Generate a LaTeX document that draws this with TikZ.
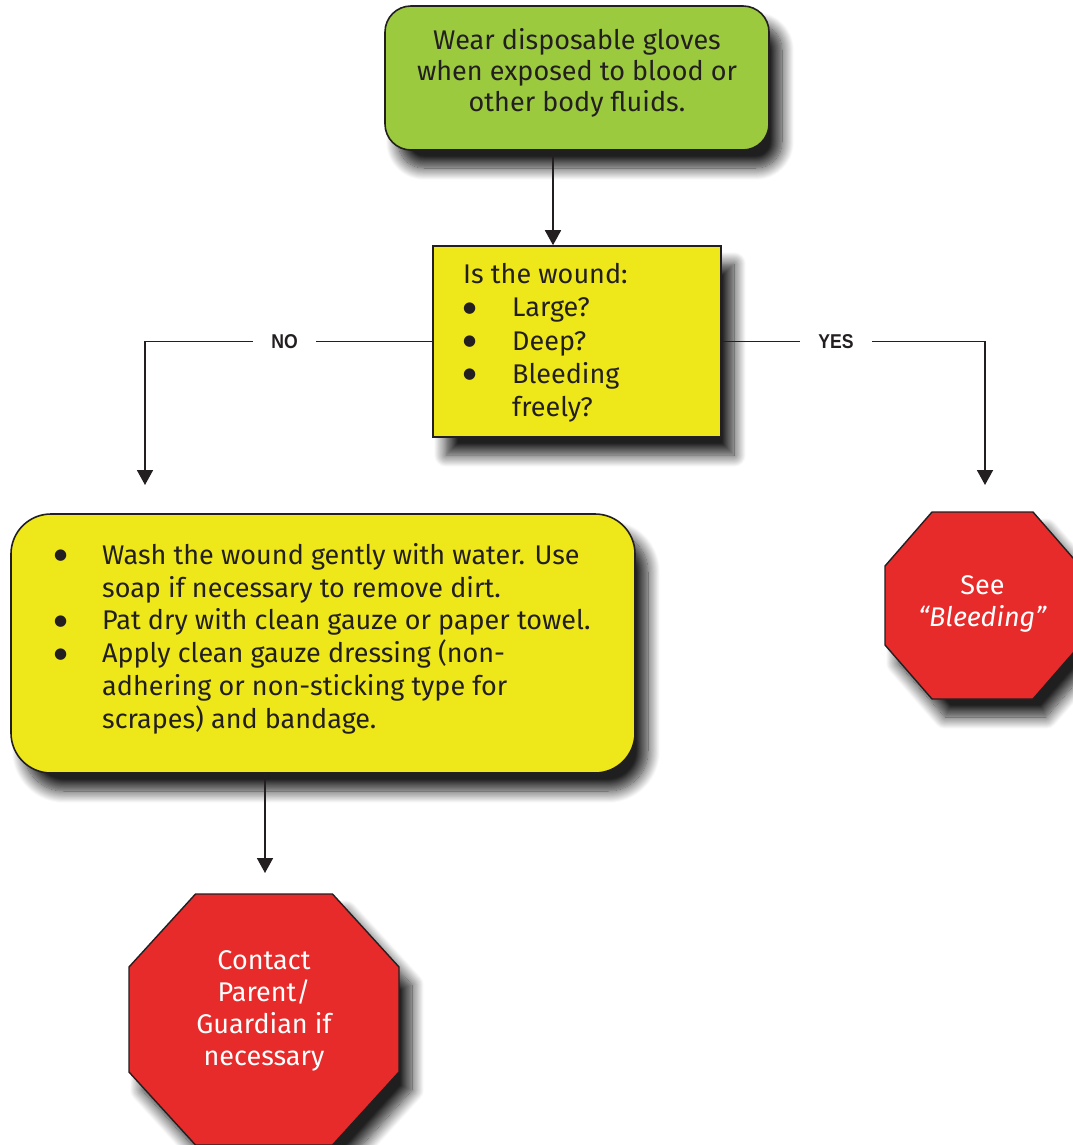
\documentclass[tikz,border=0pt]{standalone}
\usepackage{fontspec}
\setmainfont{Fira Sans}
\newfontfamily\labelfont{Liberation Sans}
\newfontfamily\symfont{DejaVu Sans}
\usetikzlibrary{arrows.meta,shadows.blur}

\definecolor{ink}{HTML}{231F20}
\definecolor{leaf}{HTML}{9BCA3E}
\definecolor{lemon}{HTML}{EEE81B}
\definecolor{stopred}{HTML}{E72A2A}

\tikzset{
  x=1pt, y=1pt,
  dropshadow/.style={blur shadow={shadow xshift=13pt, shadow yshift=-18pt,
      shadow blur radius=12pt, shadow blur steps=16, shadow opacity=88}},
  box/.style={draw=ink, line width=1.6pt, inner sep=0pt, dropshadow},
  stopsign/.style={draw=ink, line width=1.4pt, fill=stopred, dropshadow},
  body/.style={font=\fontsize{27}{32.8}\selectfont, text=ink, inner sep=0pt},
  stoptext/.style={font=\fontsize{27}{32}\selectfont, text=white, align=center, inner sep=0pt},
  flow/.style={draw=ink, line width=1.8pt, -{Triangle[width=16pt,length=15pt]}},
  answer/.style={font=\labelfont\bfseries\fontsize{20}{22}\selectfont, text=ink,
      fill=white, inner xsep=18pt, inner ysep=4pt},
}
% list bullet in a box of the given width
\newcommand{\bul}[1]{\makebox[#1][l]{\raisebox{4.5pt}{\symfont\fontsize{15}{15}\selectfont ●}}}

\begin{document}
\begin{tikzpicture}
\useasboundingbox (0,0) rectangle (1072,-1145);

% gloves instruction
\node[box, fill=leaf, rounded corners=26pt, minimum width=384pt, minimum height=144pt]
  (gloves) at (577,-78) {};
\node[body, font=\fontsize{27}{31}\selectfont, align=center] (glovestext) at (577,-73)
  {Wear disposable gloves\\when exposed to blood or\\other body fluids.};

% wound question
\node[box, fill=lemon, minimum width=288pt, minimum height=191pt]
  (wound) at (577,-341.5) {};
\node[body, font=\fontsize{27}{33.3}\selectfont, align=left, anchor=north west] (woundtext) at (463,-263)
  {Is the wound:\\
   \bul{49pt}Large?\\
   \bul{49pt}Deep?\\
   \bul{49pt}Bleeding\\
   \hspace*{49pt}freely?};

% minor wound care
\node[box, fill=lemon, rounded corners=40pt, minimum width=624pt, minimum height=259pt]
  (care) at (323,-643.5) {};
\node[body, align=left, anchor=north west] (caretext) at (54,-543)
  {\bul{48pt}Wash the wound gently with water. Use\\
   \hspace*{48pt}soap if necessary to remove dirt.\\
   \bul{48pt}Pat dry with clean gauze or paper towel.\\
   \bul{48pt}Apply clean gauze dressing (non-\\
   \hspace*{48pt}adhering or non-sticking type for\\
   \hspace*{48pt}scrapes) and bandage.};

% stop sign: see bleeding
\begin{scope}[shift={(982.5,-605.5)}]
  \draw[stopsign] (-50.5,93.5) -- (50.5,93.5) -- (97.5,39.5) -- (97.5,-39.5)
    -- (50.5,-93.5) -- (-50.5,-93.5) -- (-97.5,-39.5) -- (-97.5,39.5) -- cycle;
  \coordinate (bleedtop) at (0,93.5);
  \node[stoptext] (bleed) at (0,1.5) {See\\\textit{“Bleeding”}};
\end{scope}

% stop sign: contact parent
\begin{scope}[shift={(264,-1019.5)}]
  \draw[stopsign] (-68.5,125.5) -- (68.5,125.5) -- (135,52.5) -- (135,-52.5)
    -- (68.5,-125.5) -- (-68.5,-125.5) -- (-135,-52.5) -- (-135,52.5) -- cycle;
  \coordinate (parenttop) at (1,125.5);
  \node[stoptext] (parent) at (0,8.5) {Contact\\Parent/\\Guardian if\\necessary};
\end{scope}

% connectors
\coordinate (noend) at (145,-485);
\coordinate (yesend) at (985,-485);

\draw[flow] ([xshift=-24pt]gloves.south) -- ([xshift=-24pt]wound.north);
\draw[flow] (wound.west) -- node[answer, pos=0.514] (no) {\scalebox{0.88}[1]{NO}} (wound.west -| noend) -- (noend);
\draw[flow] (wound.east) -- node[answer, pos=0.434] (yes) {\scalebox{0.88}[1]{YES}} (wound.east -| yesend) -- (yesend);
\draw[flow] (care.south -| parenttop) -- ([yshift=21pt]parenttop);
\end{tikzpicture}
\end{document}
